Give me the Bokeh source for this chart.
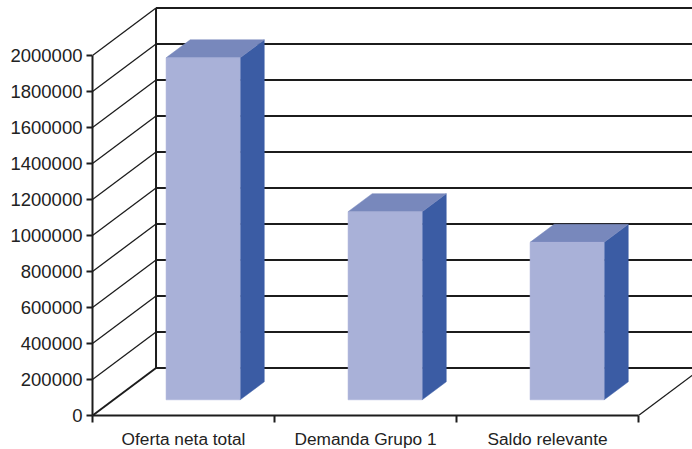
from bokeh.plotting import figure
from bokeh.embed import file_html
from bokeh.resources import INLINE
from bokeh.models import FixedTicker, Range1d

categories = ["Oferta neta total", "Demanda Grupo 1", "Saldo relevante"]
values = [1900000, 1045000, 875000]
y_ticks = [0, 200000, 400000, 600000, 800000, 1000000, 1200000, 1400000, 1600000, 1800000, 2000000]

# oblique projection of the 3D box: how far the back wall is shifted
DX = 0.349      # in category units
DY = 263900     # in value units
BAR_W = 0.407
BAR_START = 0.289
D_FRONT, D_BACK = 0.33, 0.71

FRONT = "#A9B1D8"
TOP = "#7888BC"
SIDE = "#3B5CA4"
INK = "#1c1c1c"

def proj(x, v, d):
    return x + d * DX, v + d * DY

p = figure(width=692, height=449, output_backend="svg", toolbar_location=None,
           frame_width=600, frame_height=415,
           x_range=Range1d(0, 600 / 182), y_range=Range1d(0, 415 / 360 * 2000000),
           min_border_left=92, min_border_right=0, min_border_top=0, min_border_bottom=34,
           margin=(0, 0, 0, 0))
p.outline_line_color = None
p.grid.visible = False
p.background_fill_color = "white"

# walls
for v in y_ticks:
    x0, y0 = proj(0, v, 0)
    x1, y1 = proj(0, v, 1)
    p.line([x0, x1], [y0, y1], line_color=INK, line_width=2 if v == 0 else 1.3)
    p.line([x1, 3 + DX], [y1, y1], line_color=INK, line_width=2)
p.line([DX, DX], [DY, y_ticks[-1] + DY], line_color=INK, line_width=2)
p.line([3, 3 + DX], [0, DY], line_color=INK, line_width=1.3)

# bars
for i, val in enumerate(values):
    x0 = i + BAR_START
    x1 = x0 + BAR_W
    a = proj(x0, 0, D_FRONT)
    b = proj(x1, 0, D_FRONT)
    c = proj(x1, val, D_FRONT)
    d = proj(x0, val, D_FRONT)
    e = proj(x1, 0, D_BACK)
    f = proj(x1, val, D_BACK)
    g = proj(x0, val, D_BACK)
    p.patch([b[0], e[0], f[0], c[0]], [b[1], e[1], f[1], c[1]], fill_color=SIDE, line_color=SIDE, line_width=0.5)
    p.patch([d[0], c[0], f[0], g[0]], [d[1], c[1], f[1], g[1]], fill_color=TOP, line_color=TOP, line_width=0.5)
    p.patch([a[0], b[0], c[0], d[0]], [a[1], b[1], c[1], d[1]], fill_color=FRONT, line_color=FRONT, line_width=0.5)

FONT = "Liberation Sans"
ax = p.yaxis[0]
ax.ticker = FixedTicker(ticks=y_ticks)
ax.bounds = (0, 2000000)
ax.formatter.use_scientific = False
ax.major_tick_in = 0
ax.major_tick_out = 6
ax.minor_tick_out = 0
ax.minor_tick_in = 0
ax.major_tick_line_width = 2
ax.axis_line_width = 2
ax.axis_line_color = INK
ax.major_tick_line_color = INK
ax.major_label_text_font = FONT
ax.major_label_text_font_size = "18.5px"
ax.major_label_text_color = "#222222"
ax.major_label_standoff = 4

bx = p.xaxis[0]
bx.ticker = FixedTicker(ticks=[0.5, 1.5, 2.5], minor_ticks=[0, 1, 2, 3])
bx.major_label_overrides = {i + 0.5: c for i, c in enumerate(categories)}
bx.bounds = (0, 3)
bx.major_tick_in = 0
bx.major_tick_out = 0
bx.minor_tick_in = 0
bx.minor_tick_out = 7
bx.minor_tick_line_width = 2
bx.minor_tick_line_color = INK
bx.axis_line_width = 2
bx.axis_line_color = INK
bx.major_label_text_font = FONT
bx.major_label_text_font_size = "17.3px"
bx.major_label_text_color = "#222222"
bx.major_label_standoff = 6

open("out.html", "w").write(file_html(p, INLINE))
